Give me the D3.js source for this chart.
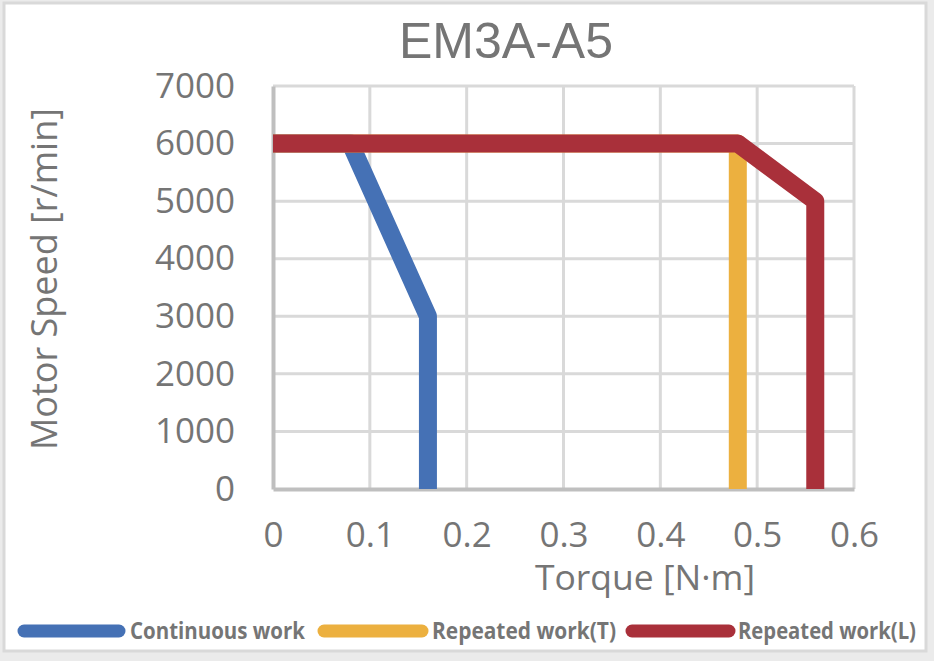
<!DOCTYPE html>
<html>
<head>
<meta charset="utf-8">
<script src="https://cdn.jsdelivr.net/npm/d3@7"></script>
<style>
  html, body { margin: 0; padding: 0; background: #ebebeb; }
  svg { display: block; }
</style>
</head>
<body>
<div id="chart"></div>
<script>
// data
const seriesNames = ["Continuous work", "Repeated work(T)", "Repeated work(L)"];
const seriesColors = ["#4571b5", "#ecb03f", "#a9303a"];
const continuousTorque = [0, 0.08, 0.16, 0.16];
const continuousSpeed = [6000, 6000, 3000, 0];
const repeatedTTorque = [0, 0.48, 0.48];
const repeatedTSpeed = [6000, 6000, 0];
const repeatedLTorque = [0, 0.48, 0.56, 0.56];
const repeatedLSpeed = [6000, 6000, 5000, 0];
const xTicks = [0, 0.1, 0.2, 0.3, 0.4, 0.5, 0.6];
const yTicks = [0, 1000, 2000, 3000, 4000, 5000, 6000, 7000];

const series = [
	{ name: seriesNames[0], color: seriesColors[0], pts: continuousTorque.map((t, i) => ({ t, s: continuousSpeed[i] })) },
	{ name: seriesNames[1], color: seriesColors[1], pts: repeatedTTorque.map((t, i) => ({ t, s: repeatedTSpeed[i] })) },
	{ name: seriesNames[2], color: seriesColors[2], pts: repeatedLTorque.map((t, i) => ({ t, s: repeatedLSpeed[i] })) }
];

const W = 934, H = 661;
const gray = "#757575";
const font = "'Open Sans', 'Noto Sans', sans-serif";

const svg = d3.select("#chart")
	.append("svg")
	.attr("width", W)
	.attr("height", H);

// chart frame
svg.append("rect")
	.attr("x", 4).attr("y", 3)
	.attr("width", 922).attr("height", 648)
	.attr("fill", "#fff")
	.attr("stroke", "#d9d9d9")
	.attr("stroke-width", 3);

// scales
const x = d3.scaleLinear().domain([0, 0.6]).range([273, 854]);
const y = d3.scaleLinear().domain([0, 7000]).range([489, 86]);

// grid
svg.append("g")
	.selectAll("line.v")
	.data(xTicks.slice(1))
	.enter()
	.append("line")
	.attr("x1", d => x(d)).attr("x2", d => x(d))
	.attr("y1", y(7000)).attr("y2", y(0))
	.attr("stroke", "#d9d9d9")
	.attr("stroke-width", 3);

svg.append("g")
	.selectAll("line.h")
	.data(yTicks.slice(1))
	.enter()
	.append("line")
	.attr("x1", x(0)).attr("x2", x(0.6))
	.attr("y1", d => y(d)).attr("y2", d => y(d))
	.attr("stroke", "#d9d9d9")
	.attr("stroke-width", 3);

// axes
const xAxis = svg.append("g")
	.attr("transform", `translate(0,${y(0)})`)
	.call(d3.axisBottom(x).tickValues(xTicks).tickSize(0).tickPadding(33).tickFormat(d3.format("")));
xAxis.select(".domain").attr("stroke", "#bfbfbf").attr("stroke-width", 4);
xAxis.selectAll("text")
	.style("font-family", font)
	.style("font-size", "35px")
	.attr("fill", gray);

const yAxis = svg.append("g")
	.attr("transform", `translate(${x(0)},0)`)
	.call(d3.axisLeft(y).tickValues(yTicks).tickSize(0).tickPadding(38).tickFormat(d3.format("d")));
yAxis.select(".domain").attr("stroke", "#bfbfbf").attr("stroke-width", 4);
yAxis.selectAll("text")
	.style("font-family", font)
	.style("font-size", "35px")
	.attr("fill", gray);

// lines
const line = d3.line().x(d => x(d.t)).y(d => y(d.s));

svg.append("g")
	.selectAll("path")
	.data(series)
	.enter()
	.append("path")
	.attr("d", d => line(d.pts))
	.attr("fill", "none")
	.attr("stroke", d => d.color)
	.attr("stroke-width", 18)
	.attr("stroke-linejoin", "round")
	.attr("stroke-linecap", "butt");

// title
svg.append("text")
	.attr("x", 506).attr("y", 58)
	.attr("text-anchor", "middle")
	.style("font-family", "'Liberation Sans', Arial, sans-serif")
	.style("font-size", "50px")
	.attr("fill", gray)
	.text("EM3A-A5");

// axis titles
svg.append("text")
	.attr("x", 645).attr("y", 590)
	.attr("text-anchor", "middle")
	.style("font-family", font)
	.style("font-size", "35.5px")
	.attr("fill", gray)
	.text("Torque [N·m]");

svg.append("text")
	.attr("transform", "rotate(-90)")
	.attr("x", -279).attr("y", 57)
	.attr("text-anchor", "middle")
	.style("font-family", font)
	.style("font-size", "36px")
	.attr("fill", gray)
	.text("Motor Speed [r/min]");

// legend
const legendX = [[18, 125, 130, 305], [318, 428, 432, 616], [626, 735, 738, 916]];
const legend = svg.append("g")
	.selectAll("g")
	.data(series)
	.enter()
	.append("g");

legend.append("line")
	.attr("x1", (d, i) => legendX[i][0] + 6)
	.attr("x2", (d, i) => legendX[i][1] - 6)
	.attr("y1", 631).attr("y2", 631)
	.attr("stroke", d => d.color)
	.attr("stroke-width", 13)
	.attr("stroke-linecap", "round");

legend.append("text")
	.attr("x", (d, i) => legendX[i][2])
	.attr("y", 639)
	.attr("textLength", (d, i) => legendX[i][3] - legendX[i][2])
	.attr("lengthAdjust", "spacingAndGlyphs")
	.style("font-family", font)
	.style("font-size", "23px")
	.style("font-weight", 700)
	.attr("fill", gray)
	.text(d => d.name);
</script>
</body>
</html>
